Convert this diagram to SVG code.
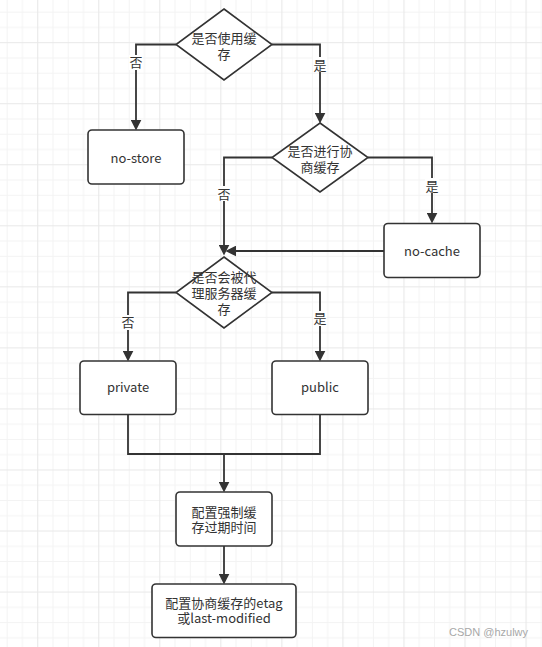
<svg xmlns="http://www.w3.org/2000/svg" width="542" height="647" viewBox="0 0 542 647">
<style>
.node rect, .node polygon { fill: #ffffff; stroke: #333333; stroke-width: 1.6; }
.t { font-family: "Noto Sans CJK SC", "Liberation Sans", sans-serif; font-size: 13px; fill: #333333; text-anchor: middle; }
.conn path { fill: none; stroke: #333333; stroke-width: 1.8; }
.lbl rect { fill: #ffffff; }
</style>
<defs>
<pattern id="grid" patternUnits="userSpaceOnUse" x="37.2" y="42.2" width="61.04" height="61.04">
<path d="M15.76,0V61.04M31.02,0V61.04M46.28,0V61.04M0,15.76H61.04M0,31.02H61.04M0,46.28H61.04" stroke="#f3f3f3" stroke-width="1" fill="none"/>
<path d="M0.5,0V61.04M0,0.5H61.04" stroke="#e8e8e8" stroke-width="1.2" fill="none"/>
</pattern>
<marker id="arr" markerUnits="userSpaceOnUse" markerWidth="11" markerHeight="11" refX="4" refY="5" orient="auto" viewBox="0 0 10 10">
<path d="M0,0 L10,5 L0,10 z" fill="#333333"/>
</marker>
</defs>
<rect width="542" height="647" fill="#ffffff"/>
<rect width="542" height="647" fill="url(#grid)"/>

<g id="connectors" class="conn">
<path d="M176,44.5 H136 V124" marker-end="url(#arr)"/>
<path d="M272,44.5 H320 V117" marker-end="url(#arr)"/>
<path d="M272,157.5 H224 V249" marker-end="url(#arr)"/>
<path d="M368,157.5 H432 V217" marker-end="url(#arr)"/>
<path d="M384,251 H232" marker-end="url(#arr)"/>
<path d="M176,292.5 H128 V355" marker-end="url(#arr)"/>
<path d="M272,292.5 H320 V355" marker-end="url(#arr)"/>
<path d="M128,414 V454 H320 V414"/>
<path d="M224,454 V486" marker-end="url(#arr)"/>
<path d="M224,546 V578" marker-end="url(#arr)"/>
</g>

<g id="labels" class="lbl">
<rect x="129" y="55" width="14" height="15"/>
<text class="t" x="136" y="67">否</text>
<rect x="313" y="57" width="14" height="15"/>
<text class="t" x="320" y="69.5">是</text>
<rect x="217" y="186" width="14" height="15"/>
<text class="t" x="224" y="198.5">否</text>
<rect x="425" y="178" width="14" height="15"/>
<text class="t" x="432" y="190.5">是</text>
<rect x="121" y="315" width="14" height="15"/>
<text class="t" x="128" y="327">否</text>
<rect x="313" y="311" width="14" height="15"/>
<text class="t" x="320" y="323">是</text>
</g>

<g id="q-use-cache" class="node">
<polygon points="224,9 272,44.5 224,80 176,44.5"/>
<text class="t" x="224" y="43">是否使用缓</text>
<text class="t" x="224" y="59">存</text>
</g>

<g id="no-store" class="node">
<rect x="88" y="130" width="96" height="54" rx="4"/>
<text class="t" x="136" y="162.5">no-store</text>
</g>

<g id="q-negotiate" class="node">
<polygon points="320,123 368,157.5 320,192 272,157.5"/>
<text class="t" x="320" y="155.5">是否进行协</text>
<text class="t" x="320" y="171.5">商缓存</text>
</g>

<g id="no-cache" class="node">
<rect x="384" y="223.5" width="96" height="54" rx="4"/>
<text class="t" x="432" y="256">no-cache</text>
</g>

<g id="q-proxy" class="node">
<polygon points="224,257 272,292.5 224,328 176,292.5"/>
<text class="t" x="224" y="281.5">是否会被代</text>
<text class="t" x="224" y="298">理服务器缓</text>
<text class="t" x="224" y="314">存</text>
</g>

<g id="private" class="node">
<rect x="80" y="361" width="96" height="53.5" rx="4"/>
<text class="t" x="128" y="392">private</text>
</g>

<g id="public" class="node">
<rect x="272" y="361" width="96" height="53.5" rx="4"/>
<text class="t" x="320" y="392">public</text>
</g>

<g id="max-age" class="node">
<rect x="176" y="492" width="96" height="54" rx="4"/>
<text class="t" x="224" y="516.5">配置强制缓</text>
<text class="t" x="224" y="532">存过期时间</text>
</g>

<g id="etag" class="node">
<rect x="152" y="584" width="144" height="53.5" rx="4"/>
<text class="t" x="224" y="607.5">配置协商缓存的etag</text>
<text class="t" x="224" y="623">或last-modified</text>
</g>

<text x="449" y="635.5" font-family="Liberation Sans, Arial, sans-serif" font-size="11" fill="#a8a8a8">CSDN @hzulwy</text>
</svg>
